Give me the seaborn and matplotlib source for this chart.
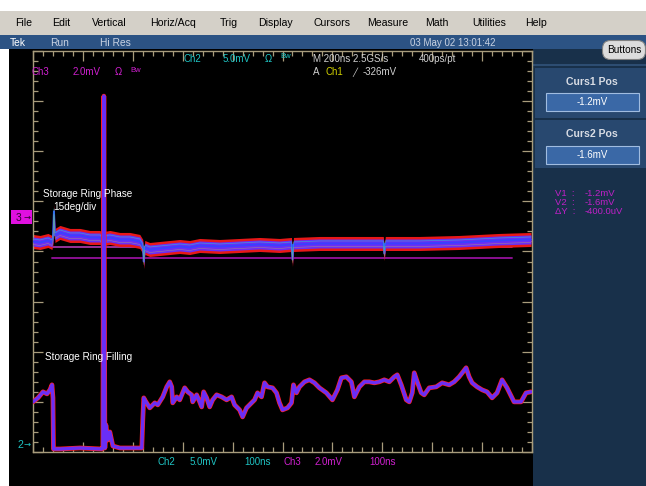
import matplotlib
matplotlib.use("Agg")
import matplotlib.pyplot as plt
import seaborn as sns
import pandas as pd
import numpy as np
from matplotlib.patches import Rectangle, FancyBboxPatch
from matplotlib.ticker import MultipleLocator

sns.set_style("dark")
plt.rcParams["font.family"] = ["Liberation Sans", "DejaVu Sans"]

# ---------------- data (time in ns, level in graticule divisions) ----------------
ch2_t = [0, 10, 20, 28, 34, 38, 40, 41, 54, 94,
         138, 140, 142, 144, 146, 150, 154, 160, 174, 218,
         220, 222, 224, 234, 244, 250, 260, 268, 274, 278,
         280, 288, 294, 304, 310, 318, 320, 328, 334, 338,
         342, 348, 354, 360, 368, 378, 388, 398, 404, 414,
         420, 428, 434, 444, 450, 458, 464, 470, 480, 488,
         494, 500, 510, 518, 522, 528, 534, 544, 554, 564,
         574, 588, 600, 610, 618, 628, 638, 644, 654, 664,
         674, 684, 694, 704, 714, 724, 730, 738, 748, 754,
         760, 764, 770, 778, 784, 794, 808, 820, 834, 844,
         854, 868, 874, 880, 890, 900, 910, 920, 930, 940,
         950, 964, 978, 988, 998]
ch2_v = [1.00, 1.08, 1.20, 1.16, 1.24, 1.34, 1.08, 0.06, 0.06, 0.08,
         0.06, 0.08, 7.10, 0.08, 0.54, 0.24, 0.40, 0.12, 0.08, 0.08,
         0.64, 1.08, 1.04, 0.88, 0.98, 0.94, 1.10, 1.30, 1.40, 1.30,
         0.98, 1.10, 1.04, 1.28, 1.20, 1.14, 1.00, 1.14, 1.00, 0.90,
         1.20, 1.08, 0.90, 1.04, 1.14, 1.10, 1.04, 1.10, 0.94, 0.84,
         0.70, 0.88, 0.94, 1.04, 1.18, 1.10, 1.38, 1.30, 1.28, 1.18,
         0.98, 0.84, 0.88, 0.98, 1.34, 1.18, 1.30, 1.40, 1.44, 1.38,
         1.28, 1.18, 1.04, 1.24, 1.48, 1.50, 1.40, 1.10, 1.30, 1.40,
         1.40, 1.38, 1.40, 1.44, 1.40, 1.50, 1.54, 1.34, 1.04, 1.00,
         1.18, 1.58, 1.40, 1.18, 1.14, 1.28, 1.30, 1.38, 1.34, 1.40,
         1.50, 1.68, 1.50, 1.38, 1.30, 1.24, 1.20, 1.08, 1.18, 1.44,
         1.28, 1.00, 1.00, 1.18, 1.20]

ch3_t = [0, 14, 30, 38, 40, 42, 44, 54, 74, 94,
         114, 134, 138, 140, 142, 154, 174, 194, 214, 220,
         222, 224, 234, 254, 274, 294, 314, 334, 374, 414,
         454, 494, 518, 520, 522, 574, 654, 702, 704, 706,
         774, 854, 934, 998]
ch3_v = [4.20, 4.18, 4.22, 4.18, 4.28, 4.80, 4.32, 4.38, 4.32, 4.32,
         4.28, 4.28, 4.24, 0.06, 4.26, 4.28, 4.24, 4.24, 4.20, 4.10,
         3.80, 4.08, 4.04, 4.06, 4.08, 4.10, 4.08, 4.12, 4.10, 4.12,
         4.14, 4.12, 4.14, 3.84, 4.14, 4.16, 4.16, 4.16, 3.96, 4.16,
         4.16, 4.18, 4.22, 4.24]

ch3_offset_div = 4.68
ch3_mv_per_div = 2.0
cursor_mv = [-1.2, -1.6]
cursor_span_ns = [38, 960]

menu_items = ["File", "Edit", "Vertical", "Horiz/Acq", "Trig", "Display",
              "Cursors", "Measure", "Math", "Utilities", "Help"]
menu_x = [15, 52, 92, 150, 220, 258, 313, 367, 425, 472, 525]

df2 = pd.DataFrame({"t": ch2_t, "v": ch2_v})
df3 = pd.DataFrame({"t": ch3_t, "v": ch3_v})

W, H = 646, 486
fig = plt.figure(figsize=(W / 100, H / 100), dpi=100)
fig.patch.set_facecolor("white")

# ---------------- background decorations (pixel coords) ----------------
bg = fig.add_axes([0, 0, 1, 1], zorder=0)
bg.set_xlim(0, W)
bg.set_ylim(H, 0)
bg.axis("off")
bg.add_patch(Rectangle((0, 11), W, 24, fc="#d4d0c8", ec="none"))
bg.add_patch(Rectangle((0, 35), W, 14, fc="#2c5384", ec="none"))
bg.add_patch(Rectangle((9, 49), 524, H - 49, fc="black", ec="none"))
bg.add_patch(Rectangle((533, 49), W - 533, H - 49, fc="#18304a", ec="none"))
bg.add_patch(Rectangle((533, 64), W - 533, 2, fc="#2d4d72", ec="none"))
bg.add_patch(Rectangle((535, 68), W - 535, 50, fc="#28486f", ec="none"))
bg.add_patch(Rectangle((546, 93), 93, 18, fc="#3a68a6", ec="#a0bce0", lw=0.8))
bg.add_patch(Rectangle((535, 120), W - 535, 48, fc="#28486f", ec="none"))
bg.add_patch(Rectangle((546, 146), 93, 18, fc="#3a68a6", ec="#a0bce0", lw=0.8))
bg.add_patch(FancyBboxPatch((604, 42), 40, 16, boxstyle="round,pad=1.5,rounding_size=8",
                            fc="#dcdcdc", ec="#808080", lw=0.8))

# ---------------- graticule / traces ----------------
ax = fig.add_axes([33 / W, (H - 452) / H, 499 / W, 401 / H], zorder=5)
ax.set_facecolor("none")
ax.set_xlim(0, 1000)
ax.set_ylim(0, 8)
ax.grid(False)

cur_levels = [ch3_offset_div + mv / ch3_mv_per_div for mv in cursor_mv]
ax.plot(cursor_span_ns, [cur_levels[0]] * 2, color="#c040c0", lw=1.1, zorder=1)
ax.plot(cursor_span_ns, [cur_levels[1]] * 2, color="#8a1090", lw=1.4, zorder=1)

# Ch3 : phase (colour-graded band)
v3 = np.array(ch3_v)
ax.fill_between(ch3_t, v3 - 0.14, v3 + 0.14, color="#e81818", lw=0, zorder=2)
ax.fill_between(ch3_t, v3 - 0.09, v3 + 0.09, color="#6a2ef5", lw=0, zorder=3)
sns.lineplot(data=df3, x="t", y="v", ax=ax, estimator=None, sort=False,
             color="#3a40ff", lw=1.4, zorder=4, legend=False)
ax.plot(np.array(ch3_t), v3 + 0.05, color="#20e0c0", lw=0.5, alpha=0.6, zorder=4)
ax.plot(np.array(ch3_t), v3 - 0.06, color="#e0e020", lw=0.4, alpha=0.45, zorder=4)

# Ch2 : filling
sns.lineplot(data=df2, x="t", y="v", ax=ax, estimator=None, sort=False,
             color="#ff2020", lw=3.4, zorder=4, legend=False)
sns.lineplot(data=df2, x="t", y="v", ax=ax, estimator=None, sort=False,
             color="#6a2ef5", lw=2.4, zorder=5, legend=False)

ax.set_xlabel("")
ax.set_ylabel("")
ax.xaxis.set_major_locator(MultipleLocator(100))
ax.xaxis.set_minor_locator(MultipleLocator(20))
ax.yaxis.set_major_locator(MultipleLocator(1))
ax.yaxis.set_minor_locator(MultipleLocator(0.2))
tick_col = "#a89c7c"
ax.tick_params(which="both", direction="in", top=True, right=True, bottom=True, left=True,
               labelbottom=False, labelleft=False, color=tick_col)
ax.tick_params(which="major", length=7, width=0.9)
ax.tick_params(which="minor", length=3.5, width=0.9)
for s in ax.spines.values():
    s.set_color(tick_col)
    s.set_linewidth(1.0)

# ---------------- text overlay ----------------
ov = fig.add_axes([0, 0, 1, 1], zorder=10)
ov.set_xlim(0, W)
ov.set_ylim(H, 0)
ov.axis("off")
ov.patch.set_alpha(0)


def t(x, y, s, c, fs=7, **kw):
    ov.text(x, y, s, color=c, fontsize=fs, ha=kw.pop("ha", "left"), va="center", **kw)


for name, x in zip(menu_items, menu_x):
    t(x, 23, name, "black", 7.6)

tb = "#c8d2e2"
t(10, 43, "Tek", "white", 7.4)
t(50, 43, "Run", tb, 7.4)
t(100, 43, "Hi Res", tb, 7.4)
t(410, 43, "03 May 02 13:01:42", tb, 7)
t(624, 50, "Buttons", "black", 7.2, ha="center")

cyan, mag, gray, yel = "#1fc4c4", "#d020d0", "#d0d0d0", "#d0d000"
t(183, 59, "Ch2", cyan)
t(223, 59, "5.0mV", cyan)
t(265, 59, "Ω", cyan)
t(280, 57, "Bw", cyan, 5.5)
t(32, 72, "Ch3", mag)
t(73, 72, "2.0mV", mag)
t(115, 72, "Ω", mag)
t(130, 70, "Bw", mag, 5.5)
t(313, 59, "M 200ns 2.5GS/s", gray)
t(419, 59, "400ps/pt", gray)
t(313, 72, "A", gray)
t(325, 72, "Ch1", yel)
t(352, 72, "╱", gray, 6, family=["DejaVu Sans"])
t(363, 72, "-326mV", gray)

t(43, 194, "Storage Ring Phase", "white", 7.2)
t(53, 207, "15deg/div", "white", 7.2)
t(45, 357, "Storage Ring Filling", "white", 7.2)

# channel markers
ov.add_patch(Rectangle((11, 210), 21, 14, fc="#e010e0", ec="none"))
t(16, 217.5, "3", "#300030", 7.4)
t(24, 217, "→", "#300030", 6, family=["DejaVu Sans"])
t(17, 445, "2", cyan, 7.6)
t(24, 444.5, "→", cyan, 6, family=["DejaVu Sans"])

# bottom readout
t(158, 462, "Ch2", cyan)
t(190, 462, "5.0mV", cyan)
t(244, 462, "100ns", cyan)
t(283, 462, "Ch3", mag)
t(315, 462, "2.0mV", mag)
t(369, 462, "100ns", mag)

# side panel
pt = "#d8dce4"
t(592, 82, "Curs1 Pos", pt, 7.6, ha="center", fontweight="bold")
t(592, 102, "-1.2mV", "white", 7, ha="center")
t(592, 134, "Curs2 Pos", pt, 7.6, ha="center", fontweight="bold")
t(592, 155, "-1.6mV", "white", 7, ha="center")
vm = "#c020c8"
t(555, 193, "V1  :", vm, 6.8)
t(585, 193, "-1.2mV", vm, 6.8)
t(555, 202, "V2  :", vm, 6.8)
t(585, 202, "-1.6mV", vm, 6.8)
t(555, 211, "ΔY  :", vm, 6.8)
t(585, 211, "-400.0uV", vm, 6.8)

fig.savefig("out.png", dpi=100, facecolor=fig.get_facecolor())
